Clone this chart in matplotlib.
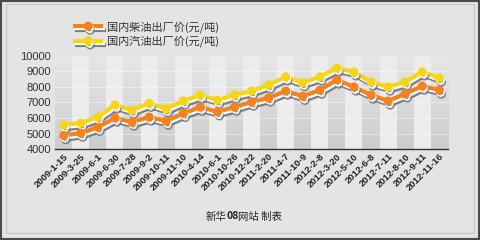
import matplotlib.pyplot as plt
import matplotlib.patheffects as pe
from matplotlib.patches import Rectangle
import numpy as np

plt.rcParams['font.family'] = ['Liberation Sans', 'Noto Sans CJK SC', 'DejaVu Sans']

dates = ['2009-1-15', '2009-3-25', '2009-6-1', '2009-6-30', '2009-7-28', '2009-9-2',
         '2009-10-11', '2009-11-10', '2010-4-14', '2010-6-1', '2010-10-26', '2010-12-22',
         '2011-2-20', '2011-4-7', '2011-10-9', '2012-2-8', '2012-3-20', '2012-5-10',
         '2012-6-8', '2012-7-11', '2012-8-10', '2012-9-11', '2012-11-16']
diesel = [4870, 5030, 5400, 6000, 5740, 6060, 5800, 6300, 6700, 6400, 6700, 7030,
          7290, 7740, 7400, 7800, 8450, 8000, 7480, 7100, 7550, 8060, 7800]
gasoline = [5550, 5680, 6060, 6840, 6500, 6950, 6600, 7100, 7480, 7150, 7480, 7740,
            8130, 8650, 8280, 8650, 9220, 8970, 8320, 8000, 8320, 8970, 8580]
yticks = [4000, 5000, 6000, 7000, 8000, 9000, 10000]
label_diesel = '国内柴油出厂价(元/吨)'
label_gasoline = '国内汽油出厂价(元/吨)'
footer = [('新华', 'normal'), ('08', 'bold'), ('网站 制表', 'normal')]

fig = plt.figure(figsize=(4.8, 2.4), dpi=100, facecolor='#e4e4e4')
ax = fig.add_axes([0.115, 0.379, 0.818, 0.388])
ax.set_facecolor('#ededed')

x = np.arange(len(dates))
# alternating column bands, darker ones shaded lighter at the top
grad = np.linspace(0, 1, 50).reshape(-1, 1)
for i in x:
    if i % 2 == 0:
        ax.imshow(grad, extent=(i - 0.5, i + 0.5, 4000, 10000), aspect='auto',
                  cmap=plt.matplotlib.colors.LinearSegmentedColormap.from_list(
                      'b', ['#cdcdcd', '#e6e6e6']), origin='lower', zorder=0)
    else:
        ax.bar(i, 6000, bottom=4000, width=1.0, color='#ececec', zorder=0)
for v in yticks[1:-1]:
    ax.axhline(v, color='white', lw=0.6, alpha=0.5, zorder=1)

fx = [pe.SimpleLineShadow(offset=(1.5, -3), shadow_color='#6f7580', alpha=0.9),
      pe.SimpleLineShadow(offset=(0.8, -1.5), shadow_color='white', alpha=1.0),
      pe.Normal()]
ax.plot(x, gasoline, color='#f7d515', lw=3, marker='o', ms=5.5, mec='#f7d515',
        path_effects=fx, zorder=3, label=label_gasoline)
ax.plot(x, diesel, color='#f5821f', lw=3, marker='o', ms=5.5, mec='#f5821f',
        path_effects=fx, zorder=4, label=label_diesel)

ax.set_xlim(-0.5, len(dates) - 0.5)
ax.set_ylim(4000, 10000)
ax.set_yticks(yticks)
ax.set_yticklabels([str(v) for v in yticks], fontsize=8, color='#333333')
ax.set_xticks(x)
ax.set_xticklabels(dates, rotation=45, ha='right', rotation_mode='anchor',
                   fontsize=6.8, fontweight='bold', color='#222222')
ax.tick_params(axis='y', length=0, pad=3)
ax.tick_params(axis='x', length=0, pad=2)
for s in ['top', 'right', 'left']:
    ax.spines[s].set_visible(False)
ax.spines['bottom'].set_color('#333333')
ax.spines['bottom'].set_linewidth(1.0)

handles, labels = ax.get_legend_handles_labels()
leg = fig.legend(handles[::-1], labels[::-1], loc='upper left', bbox_to_anchor=(0.135, 0.955),
                 frameon=False, prop={'family': ['Noto Sans CJK SC'], 'size': 8},
                 handlelength=2.4, labelspacing=0.25, handletextpad=0.5)
for t in leg.get_texts():
    t.set_color('#333333')

# footer, pieces placed side by side
renderer = fig.canvas.get_renderer()
pieces = []
for s, w in footer:
    t = fig.text(0, 0.098, s, ha='left', va='center', fontsize=7.5, fontweight=w,
                 family=['Noto Sans CJK SC'], color='#222222')
    pieces.append(t)
widths = [t.get_window_extent(renderer).width / fig.bbox.width for t in pieces]
xpos = 0.508 - sum(widths) / 2
for t, w in zip(pieces, widths):
    t.set_x(xpos)
    xpos += w

fig.patches.append(Rectangle((0.012, 0.03), 0.975, 0.955, transform=fig.transFigure,
                             fill=False, edgecolor='#c8c8c8', lw=1.0))
fig.patches.append(Rectangle((0.002, 0.004), 0.996, 0.992, transform=fig.transFigure,
                             fill=False, edgecolor='#4a4a4a', lw=1.5))

fig.savefig('out.png', dpi=100, facecolor=fig.get_facecolor())
